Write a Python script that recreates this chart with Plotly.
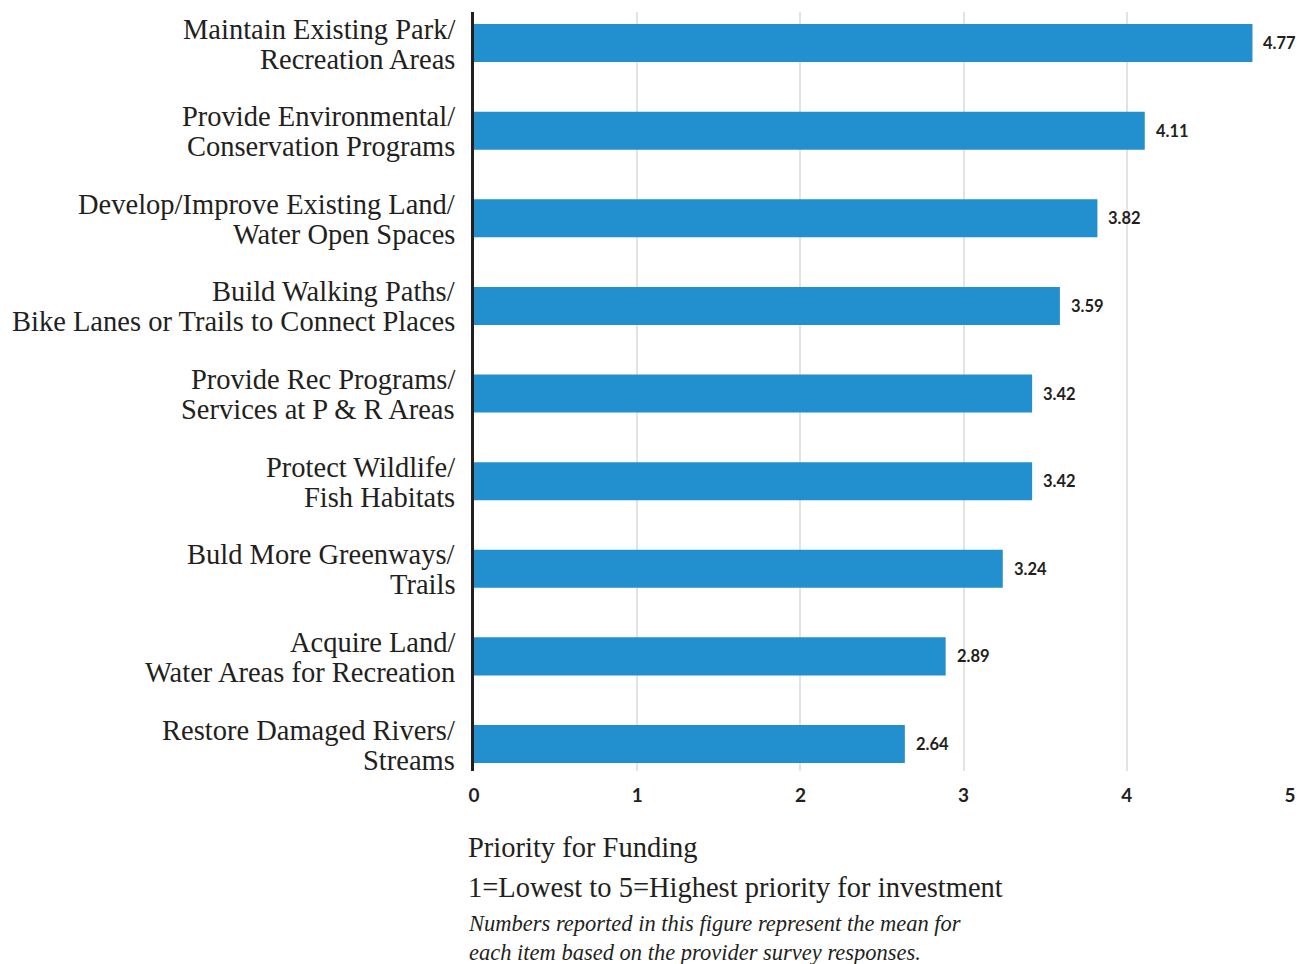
import plotly.graph_objects as go

categories = [
    "Maintain Existing Park/<br>Recreation Areas",
    "Provide Environmental/<br>Conservation Programs",
    "Develop/Improve Existing Land/<br>Water Open Spaces",
    "Build Walking Paths/<br>Bike Lanes or Trails to Connect Places",
    "Provide Rec Programs/<br>Services at P & R Areas",
    "Protect Wildlife/<br>Fish Habitats",
    "Buld More Greenways/<br>Trails",
    "Acquire Land/<br>Water Areas for Recreation",
    "Restore Damaged Rivers/<br>Streams",
]
values = [4.77, 4.11, 3.82, 3.59, 3.42, 3.42, 3.24, 2.89, 2.64]
value_labels = ["4.77", "4.11", "3.82", "3.59", "3.42", "3.42", "3.24", "2.89", "2.64"]
tick_vals = [0, 1, 2, 3, 4, 5]

# page has an 8px body margin; work in page coords and offset
OFF = 8
W, H = 1307 - OFF, 964 - OFF
px_left, px_right, px_top, px_bottom = 474, 1290, 12, 771
left = px_left - OFF
top = px_top - OFF
right = W - (px_right - OFF)
bottom = H - (px_bottom - OFF)

INK = "#231f20"

fig = go.Figure(go.Bar(
    x=values, y=categories, orientation="h",
    marker=dict(color="#228fcf", line=dict(width=0)),
    width=0.434,
    cliponaxis=False,
))

fig.update_layout(
    width=W, height=H,
    margin=dict(l=left, r=right, t=top, b=bottom, pad=0),
    plot_bgcolor="white", paper_bgcolor="white",
    showlegend=False,
    xaxis=dict(
        range=[0, 5], tickvals=tick_vals, showgrid=True,
        gridcolor="#e3e3e3", gridwidth=1.5, zeroline=False,
        showline=False, ticks="", ticklabelstandoff=11,
        tickfont=dict(family="Lato", size=19, color=INK, weight="bold"),
    ),
    yaxis=dict(
        range=[8.308, -0.354], type="category",
        categoryorder="array", categoryarray=categories,
        showline=True, linecolor=INK, linewidth=3,
        showgrid=False, ticks="", showticklabels=False,
    ),
    font=dict(family="Liberation Serif"),
)

# value labels next to bars
for cat, v, lab in zip(categories, values, value_labels):
    fig.add_annotation(
        x=v, y=cat, xref="x", yref="y", text=lab, showarrow=False,
        xanchor="left", yanchor="middle", xshift=9,
        font=dict(family="Lato", size=16.5, color=INK, weight="bold"),
    )

# category labels (two lines each, tighter spacing)
for cat in categories:
    lines = cat.split("<br>")
    shifts = [14, -16]
    for line, ys in zip(lines, shifts):
        fig.add_annotation(
            x=0, y=cat, xref="paper", yref="y", text=line, showarrow=False,
            xanchor="right", yanchor="middle", xshift=-17, yshift=ys,
            font=dict(family="Liberation Serif", size=28.5, color=INK),
        )

notes = [
    ("Priority for Funding", 847, 28.5),
    ("1=Lowest to 5=Highest priority for investment", 887, 28.5),
    ("<i>Numbers reported in this figure represent the mean for<br>"
     "each item based on the provider survey responses.</i>", 938, 22.5),
]
for text, py, size in notes:
    fx = (468 - px_left) / (px_right - px_left)
    fy = ((px_bottom - OFF) - (py - OFF)) / (px_bottom - px_top)
    fig.add_annotation(
        text=text, xref="paper", yref="paper", x=fx, y=fy, xshift=-2,
        xanchor="left", yanchor="middle", align="left", showarrow=False,
        font=dict(family="Liberation Serif", size=size, color=INK),
    )

fig.write_html("out.html")
